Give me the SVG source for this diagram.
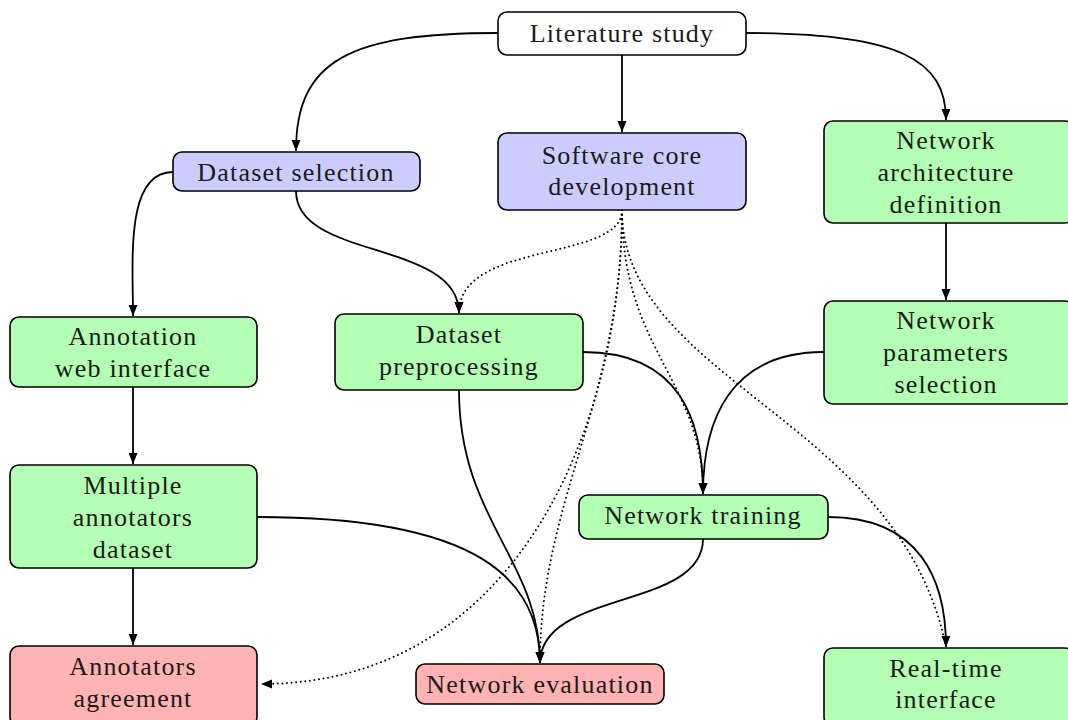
<svg xmlns="http://www.w3.org/2000/svg" width="1068" height="720" viewBox="0 0 1068 720">
<defs>
<marker id="ah" markerUnits="userSpaceOnUse" markerWidth="12" markerHeight="10" refX="11" refY="5" orient="auto">
<path d="M0,0.5 L11,5 L0,9.5 Z" fill="#000"/>
</marker>
<style>
.n{stroke:#000;stroke-width:1.6}
.w{fill:#fff}.b{fill:#ccccff}.g{fill:#b3ffb3}.r{fill:#ffb3b3}
.t{font-size:26px;fill:#1a1a1a;text-anchor:middle;dominant-baseline:central;letter-spacing:1.2px}
.e{fill:none;stroke:#000;stroke-width:1.8;marker-end:url(#ah)}
.d{fill:none;stroke:#000;stroke-width:2;stroke-dasharray:0 4.6;stroke-linecap:round}
.dm{marker-end:url(#ah)}
</style>
</defs>
<g id="connectors">
<path class="e" d="M498,33 C350,33 296,60 296,151"/>
<path class="e" d="M622,55 L622,132"/>
<path class="e" d="M746,33 C900,33 946,60 946,120"/>
<path class="e" d="M173,172 C125,172 133,260 133,316"/>
<path class="e" d="M296,191 C296,260 459,240 459,313"/>
<path class="d dm" d="M622,210 C622,262 459,240 459,313"/>
<path class="e" d="M583,352 C680,352 703,420 703,494"/>
<path class="e" d="M824,352 C730,352 703,420 703,494"/>
<path class="d" d="M622,210 C622,350 703,380 703,494"/>
<path class="d" d="M622,210 C622,380 900,420 946,647"/>
<path class="d" d="M622,210 C622,400 540,500 540,663"/>
<path class="d dm" d="M622,210 C622,420 520,684 261,684"/>
<path class="e" d="M459,390 C459,520 540,560 540,663"/>
<path class="e" d="M257,517 C480,517 540,580 540,663"/>
<path class="e" d="M703,539 C703,610 540,590 540,663"/>
<path class="e" d="M828,517 C920,517 946,580 946,647"/>
<path class="e" d="M946,223 L946,300"/>
<path class="e" d="M133,387 L133,464"/>
<path class="e" d="M133,568 L133,645"/>
</g>
<g font-family="'Liberation Serif', 'DejaVu Serif', serif">
<g id="literature"><rect class="n w" x="498" y="12" width="248" height="43" rx="9"/><text class="t" x="622" y="33">Literature study</text></g>
<g id="dsel"><rect class="n b" x="173" y="152" width="247" height="39" rx="9"/><text class="t" x="296" y="172">Dataset selection</text></g>
<g id="score"><rect class="n b" x="498" y="133" width="248" height="77" rx="9"/><text class="t" x="622" y="155">Software core</text><text class="t" x="622" y="186">development</text></g>
<g id="narch"><rect class="n g" x="824" y="121" width="250" height="102" rx="9"/><text class="t" x="946" y="140">Network</text><text class="t" x="946" y="172">architecture</text><text class="t" x="946" y="204">definition</text></g>
<g id="annweb"><rect class="n g" x="10" y="317" width="247" height="70" rx="9"/><text class="t" x="133" y="336">Annotation</text><text class="t" x="133" y="368">web interface</text></g>
<g id="dprep"><rect class="n g" x="335" y="314" width="248" height="76" rx="9"/><text class="t" x="459" y="334">Dataset</text><text class="t" x="459" y="366">preprocessing</text></g>
<g id="nparam"><rect class="n g" x="824" y="301" width="250" height="103" rx="9"/><text class="t" x="946" y="320">Network</text><text class="t" x="946" y="352">parameters</text><text class="t" x="946" y="384">selection</text></g>
<g id="multi"><rect class="n g" x="10" y="465" width="247" height="103" rx="9"/><text class="t" x="133" y="485">Multiple</text><text class="t" x="133" y="517">annotators</text><text class="t" x="133" y="549">dataset</text></g>
<g id="ntrain"><rect class="n g" x="579" y="495" width="249" height="44" rx="9"/><text class="t" x="703" y="515">Network training</text></g>
<g id="aagree"><rect class="n r" x="10" y="646" width="247" height="80" rx="9"/><text class="t" x="133" y="666">Annotators</text><text class="t" x="133" y="698">agreement</text></g>
<g id="neval"><rect class="n r" x="416" y="664" width="248" height="40" rx="9"/><text class="t" x="540" y="684">Network evaluation</text></g>
<g id="rti"><rect class="n g" x="824" y="648" width="250" height="78" rx="9"/><text class="t" x="946" y="668">Real-time</text><text class="t" x="946" y="699">interface</text></g>
</g>
</svg>
